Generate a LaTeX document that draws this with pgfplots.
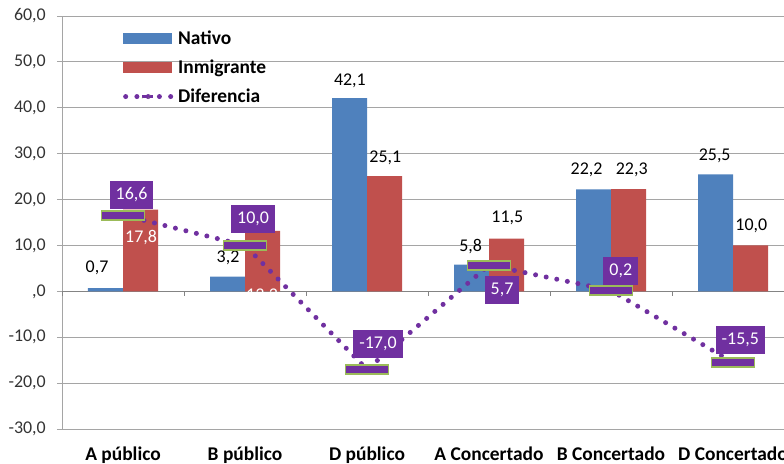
\documentclass[border=0pt]{standalone}
\usepackage{pgfplots}
\pgfplotsset{compat=1.18}
\usepackage{fontspec}
\setmainfont{Carlito}
\definecolor{cblue}{RGB}{79,129,189}
\definecolor{cred}{RGB}{192,80,77}
\definecolor{cpurp}{RGB}{112,48,160}
\definecolor{cgreen}{RGB}{155,187,89}
\definecolor{cgrid}{RGB}{165,165,165}
\pgfdeclareplotmark{flatrect}{\pgfpathrectangle{\pgfqpoint{-21.5bp}{-4.5bp}}{\pgfqpoint{43bp}{9bp}}\pgfusepathqfillstroke}
\begin{document}
\begin{tikzpicture}[
  lab/.style={font=\fontsize{18}{20}\selectfont, inner sep=0pt},
  box/.style={fill=cpurp, text=white, font=\fontsize{18}{20}\selectfont, inner xsep=6bp, inner ysep=6.5bp, text height=12bp, text depth=3bp}]
\begin{axis}[
  scale only axis, width=732bp, height=413bp,
  xmin=-0.5, xmax=5.5, ymin=-30, ymax=60,
  clip=false,
  axis line style={draw=none},
  ytick={-30,-20,...,60},
  yticklabels={{-30,0},{-20,0},{-10,0},{,0},{10,0},{20,0},{30,0},{40,0},{50,0},{60,0}},
  xtick={0,...,5},
  xticklabels={A público,B público,D público,A Concertado,B Concertado,D Concertado},
  x tick label style={font=\bfseries\fontsize{19.5}{20}\selectfont, anchor=base, inner sep=0pt, yshift=-26bp},
  y tick label style={font=\fontsize{18}{20}\selectfont, text=black!80, anchor=east, inner sep=0pt, xshift=-11bp},
  ymajorgrids, grid style={cgrid, line width=1bp},
  ytick pos=left, tick align=outside, major tick length=5bp,
  ytick style={cgrid, line width=1bp}, xtick style={draw=none},
  legend style={at={(0.0833,0.964)}, anchor=north west, draw=none, fill=none, inner sep=0pt,
    row sep=12bp, font=\bfseries\fontsize{19.5}{20}\selectfont,
    nodes={inner sep=0pt, text height=13bp, text depth=4bp},
    /tikz/every odd column/.append style={column sep=5bp}},
  legend cell align=left,
]
\draw[cgrid, line width=1bp] (rel axis cs:0,0) -- (rel axis cs:0,1);
\pgfplotsinvokeforeach{-0.5,0.5,1.5,2.5,3.5,4.5,5.5}{\draw[cgrid!80!black, line width=1bp] (axis cs:#1,0) -- ++(0pt,-5bp);}
\draw[cgrid!80!black, line width=1bp] (axis cs:-0.5,0) -- (axis cs:5.5,0);
\addplot[ybar, bar width=35bp, bar shift=-17.5bp, fill=cblue, draw=none,
  legend image code/.code={\fill[cblue] (0bp,-4.5bp) rectangle (49bp,6.5bp);}]
  coordinates {(0,0.7)(1,3.2)(2,42.1)(3,5.8)(4,22.2)(5,25.5)};
\addlegendentry{Nativo}
\addplot[ybar, bar width=35bp, bar shift=17.5bp, fill=cred, draw=none,
  legend image code/.code={\fill[cred] (0bp,-4.5bp) rectangle (49bp,6.5bp);}]
  coordinates {(0,17.8)(1,13.2)(2,25.1)(3,11.5)(4,22.3)(5,10.0)};
\addlegendentry{Inmigrante}
\addplot[cpurp, line width=5bp, line cap=round, dash pattern=on 0bp off 10.8bp,
  mark=flatrect, mark options={solid, fill=cpurp, draw=cgreen, line width=1.8bp},
  legend image code/.code={
    \draw[cpurp, line width=5bp, line cap=round, dash pattern=on 0bp off 11.25bp] (2.5bp,1bp) -- (47.5bp,1bp);
    \filldraw[fill=cpurp, draw=cgreen, line width=1bp] (19bp,-0.5bp) rectangle (30bp,2.5bp);}]
  coordinates {(0,16.6)(1,10.0)(2,-17.0)(3,5.7)(4,0.2)(5,-15.5)};
\addlegendentry{Diferencia}
\node[lab] at (axis cs:-0.213,5.2) {0,7};
\node[lab, text=white] at (axis cs:0.148,11.8) {17,8};
\node[box] at (axis cs:0.07,21.1) {16,6};
\node[lab] at (axis cs:0.861,7.2) {3,2};
\node[lab, text=white] at (axis cs:1.14,-1.0) {13,2};
\node[box] at (axis cs:1.066,15.7) {10,0};
\node[lab] at (axis cs:1.86,45.8) {42,1};
\node[lab] at (axis cs:2.15,29.0) {25,1};
\node[box] at (axis cs:2.09,-11.5) {-17,0};
\node[lab] at (axis cs:2.85,9.8) {5,8};
\node[lab] at (axis cs:3.15,15.9) {11,5};
\node[box] at (axis cs:3.107,0.2) {5,7};
\node[lab] at (axis cs:3.80,26.4) {22,2};
\node[lab] at (axis cs:4.17,26.4) {22,3};
\node[box] at (axis cs:4.08,4.4) {0,2};
\node[lab] at (axis cs:4.85,29.6) {25,5};
\node[lab] at (axis cs:5.15,14.2) {10,0};
\node[box] at (axis cs:5.06,-10.5) {-15,5};
\end{axis}
\pgfresetboundingbox
\path[use as bounding box] ([shift={(-62bp,-35bp)}]current axis.south west) rectangle ([shift={(722bp,429bp)}]current axis.south west);
\end{tikzpicture}
\end{document}
